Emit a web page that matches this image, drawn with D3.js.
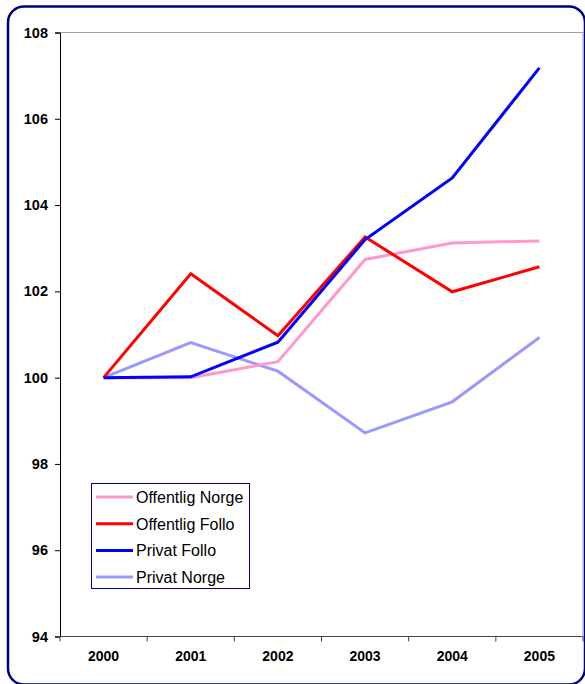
<!DOCTYPE html>
<html><head><meta charset="utf-8">
<script src="https://cdn.jsdelivr.net/npm/d3@7"></script>
<style>body{margin:0;background:#fff}svg{display:block}</style>
</head><body>
<script>
const years = ["2000","2001","2002","2003","2004","2005"];
const offentligNorge = [100, 100.0, 100.37, 102.74, 103.12, 103.17];
const offentligFollo = [100, 102.41, 100.97, 103.26, 101.99, 102.57];
const privatFollo    = [100, 100.02, 100.82, 103.2, 104.63, 107.18];
const privatNorge    = [100, 100.81, 100.15, 98.72, 99.44, 100.93];
const yTicks = [94, 96, 98, 100, 102, 104, 106, 108];
const seriesNames = ["Offentlig Norge","Offentlig Follo","Privat Follo","Privat Norge"];
const seriesColors = ["#FF99CC","#FF0000","#0000FF","#9999FF"];
const seriesData = [offentligNorge, offentligFollo, privatFollo, privatNorge];

const W = 585, H = 684;
const FONT = "Arial, 'Liberation Sans', sans-serif";
const svg = d3.select("body").append("svg").attr("width", W).attr("height", H);
svg.append("rect").attr("x",8).attr("y",6.5).attr("width",577).attr("height",678)
  .attr("rx",16).attr("fill","#fff").attr("stroke","#000080").attr("stroke-width",2.5);

const L = 60, R = 583, T = 32.5, B = 636.5;
const x = d3.scaleBand().domain(years).range([L, R]);
const y = d3.scaleLinear().domain([94,108]).range([B, T]);

// plot border (top & right gray)
svg.append("path").attr("d", `M${L},${T}H${R}V${B}`).attr("fill","none").attr("stroke","#a0a0a0").attr("stroke-width",1);

const yAxis = svg.append("g").attr("transform",`translate(${L},0)`)
  .call(d3.axisLeft(y).tickValues(yTicks).tickSize(5).tickPadding(7).tickFormat(d3.format("d")));
yAxis.select(".domain").attr("stroke","#000");
yAxis.selectAll("line").attr("stroke","#000");
yAxis.selectAll("text").attr("font-family",FONT).attr("font-weight","bold").attr("font-size",14.5).attr("fill","#000");

const xAxis = svg.append("g").attr("transform",`translate(0,${B})`)
  .call(d3.axisBottom(x).tickSize(0).tickPadding(15));
xAxis.select(".domain").attr("stroke","#444").attr("d",`M${L},0H${R}`);
xAxis.selectAll("text").attr("font-family",FONT).attr("font-weight","bold").attr("font-size",14).attr("fill","#000");
// category boundary ticks
const bounds = years.map(d => x(d)).concat([R]);
svg.append("g").selectAll("line").data(bounds).join("line")
  .attr("x1",d=>d).attr("x2",d=>d).attr("y1",B).attr("y2",B+5).attr("stroke","#444");

const line = d3.line().x((d,i)=>x(years[i])+x.bandwidth()/2).y(d=>y(d));
// draw order: Privat Norge, Offentlig Norge, Offentlig Follo, Privat Follo
[3,0,1,2].forEach(k => {
  svg.append("path").datum(seriesData[k]).attr("d", line).attr("fill","none")
    .attr("stroke", seriesColors[k]).attr("stroke-width",3).attr("stroke-linejoin","miter");
});

// legend
const lg = svg.append("g");
lg.append("rect").attr("x",91.5).attr("y",483.5).attr("width",158).attr("height",105)
  .attr("fill","#fff").attr("stroke","#000080").attr("stroke-width",1);
seriesNames.forEach((n,i) => {
  const yy = 497 + i*26.7;
  lg.append("line").attr("x1",96).attr("x2",133).attr("y1",yy).attr("y2",yy)
    .attr("stroke",seriesColors[i]).attr("stroke-width",3);
  lg.append("text").attr("x",136).attr("y",yy+6).text(n)
    .attr("font-family",FONT).attr("font-size",16).attr("fill","#000");
});
</script>
</body></html>
